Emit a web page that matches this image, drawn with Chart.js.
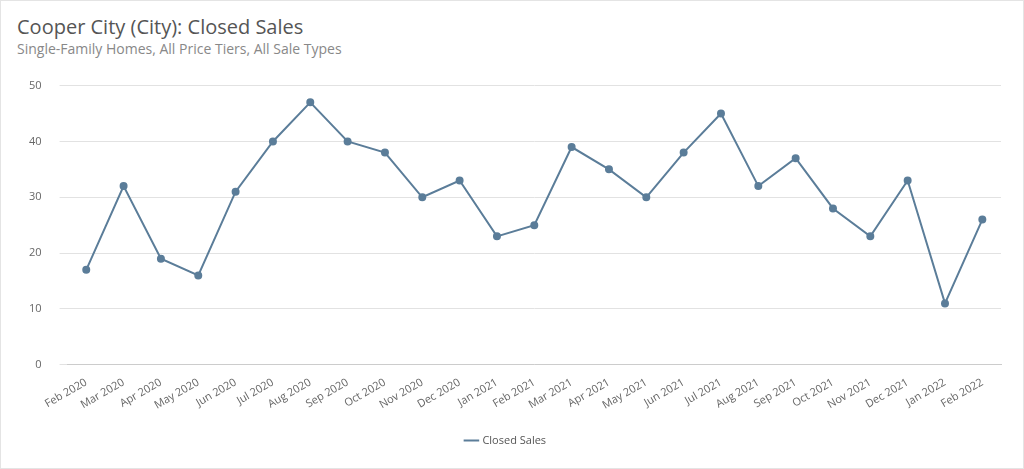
<!DOCTYPE html>
<html>
<head>
<meta charset="utf-8">
<script src="https://cdn.jsdelivr.net/npm/chart.js@4"></script>
<style>
  html, body { margin: 0; padding: 0; background: #fff; }
  #wrap { position: relative; width: 1022px; height: 467px; border: 1px solid #e4e4e4; }
  #title { position: absolute; left: 16px; top: 12px; font: 20px "Open Sans", sans-serif; color: #555; }
  #sub { position: absolute; left: 16px; top: 38px; font: 14px "Open Sans", sans-serif; color: #888; }
  #box { position: absolute; left: 0; top: 60px; width: 1010px; height: 395px; }
</style>
</head>
<body>
<div id="wrap">
  <div id="title">Cooper City (City): Closed Sales</div>
  <div id="sub">Single-Family Homes, All Price Tiers, All Sale Types</div>
  <div id="box"><canvas id="chart"></canvas></div>
</div>
<script>
const months = ['Feb 2020','Mar 2020','Apr 2020','May 2020','Jun 2020','Jul 2020','Aug 2020','Sep 2020','Oct 2020','Nov 2020','Dec 2020',
  'Jan 2021','Feb 2021','Mar 2021','Apr 2021','May 2021','Jun 2021','Jul 2021','Aug 2021','Sep 2021','Oct 2021','Nov 2021','Dec 2021',
  'Jan 2022','Feb 2022'];
const closedSales = [17,32,19,16,31,40,47,40,38,30,33,23,25,39,35,30,38,45,32,37,28,23,33,11,26];

new Chart(document.getElementById('chart'), {
  type: 'line',
  data: {
    labels: months,
    datasets: [{
      label: 'Closed Sales',
      data: closedSales,
      borderColor: '#5b7d99',
      backgroundColor: '#5b7d99',
      borderWidth: 2,
      pointRadius: 3,
      tension: 0
    }]
  },
  options: {
    responsive: true,
    maintainAspectRatio: false,
    animation: false,
    layout: { padding: { left: 10, right: 10, top: 8 } },
    plugins: {
      legend: {
        position: 'bottom',
        labels: { usePointStyle: true, pointStyle: 'line', boxWidth: 20, color: '#555', font: { size: 11, family: 'Open Sans' }, padding: 20 }
      }
    },
    scales: {
      x: {
        offset: true,
        grid: { display: false },
        border: { color: '#ccc' },
        ticks: { color: '#666', font: { size: 11, family: 'Open Sans' }, maxRotation: 30, minRotation: 30, autoSkip: false }
      },
      y: {
        min: 0, max: 50,
        ticks: { stepSize: 10, color: '#666', font: { size: 11, family: 'Open Sans' }, padding: 18 },
        grid: { color: '#e2e2e2' },
        border: { display: false }
      }
    }
  }
});
</script>
</body>
</html>
